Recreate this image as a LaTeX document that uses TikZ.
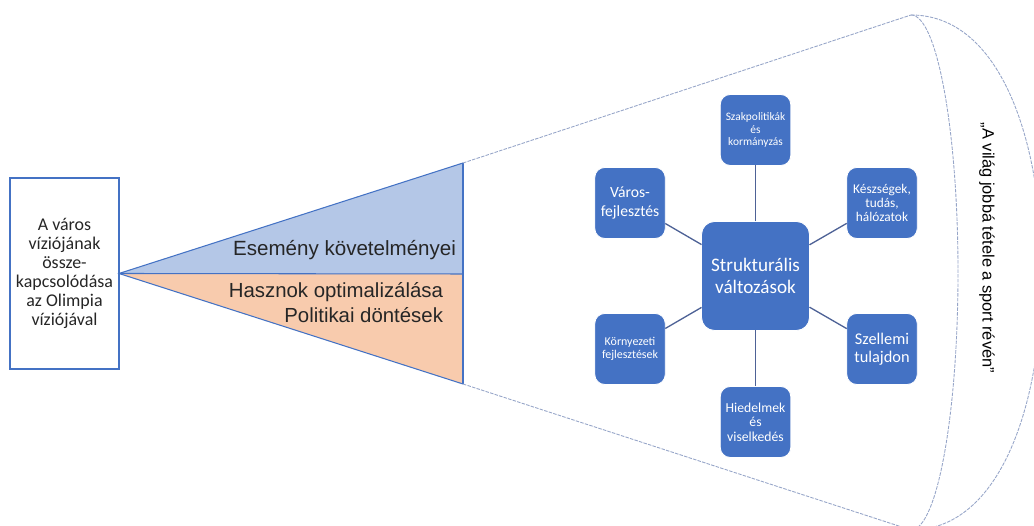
\documentclass[tikz,border=0pt]{standalone}
\usepackage{fontspec}
\setmainfont{Carlito}
\newfontfamily\arialfont{Liberation Sans}

\definecolor{boxblue}{RGB}{68,114,196}
\definecolor{linkblue}{RGB}{78,98,150}
\definecolor{lightblue}{RGB}{180,199,231}
\definecolor{peach}{RGB}{248,203,173}
\definecolor{conegray}{RGB}{150,165,200}

\begin{document}
\begin{tikzpicture}[inner sep=0, outer sep=0,
  bluebox/.style={rectangle, rounded corners=0.2cm, fill=boxblue, draw=white,
    line width=0.5pt, text=white, align=center,
    minimum width=1.41cm, minimum height=1.42cm},
  link/.style={draw=linkblue, line width=0.75pt},
  cone/.style={draw=conegray, line width=0.5pt, dash pattern=on 2pt off 0.7pt}]

  \useasboundingbox (0,0) rectangle (20.68,10.52);

  \node[rectangle, draw=boxblue,
    line width=0.85pt,
    align=center,
    minimum height = 3.82cm,
    minimum width = 2.18cm,
    text = black!85,
    font = \fontsize{10.2}{10.9}\selectfont] (vision) at (1.29, 5.05)
    {A város\\víziójának\\össze-\\kapcsolódása\\az Olimpia\\víziójával};

  % wedge
  \coordinate (apex) at (vision.east);
  \coordinate (ttop) at (9.26, 7.26);
  \coordinate (tmid) at (9.26, 5.04);
  \coordinate (tbot) at (9.26, 2.84);
  \fill[lightblue] (apex) -- (ttop) -- (tmid) -- cycle;
  \fill[peach] (apex) -- (tmid) -- (tbot) -- cycle;
  \draw[boxblue, line width=0.6pt] (ttop) -- (apex) -- (tbot);
  \draw[boxblue, line width=0.6pt] (apex) -- (tmid);
  \draw[boxblue, line width=1.1pt] (ttop) -- (tbot);

  \node[anchor=base east, text=black!85, font=\arialfont\fontsize{11.7}{14}\selectfont]
    (req) at (9.12, 5.41) {Esemény követelményei};
  \node[anchor=east, align=right, text=black!85, font=\arialfont\fontsize{11.6}{14.2}\selectfont]
    (gain) at (8.86, 4.46) {Hasznok optimalizálása\\Politikai döntések};

  % cone and its end
  \coordinate (ctop) at (18.22, 10.22);
  \coordinate (cbot) at (18.22, -0.08);
  \draw[cone] (ttop) -- (ctop);
  \draw[cone] (tbot) -- (cbot);
  \draw[cone] (ctop) arc[start angle=90, end angle=-90, x radius=0.94, y radius=5.15];
  \draw[cone] (ctop) .. controls (20.0, 10.22) and (20.84, 7.72) .. (20.84, 5.07)
    .. controls (20.84, 2.42) and (20.0, -0.08) .. (cbot);

  \node[rotate=-90, font=\arialfont\fontsize{9.35}{11}\selectfont] (motto) at (19.74, 5.56)
    {„A világ jobbá tétele a sport révén”};

  \node[bluebox, minimum width=2.16cm, minimum height=2.18cm, rounded corners=0.26cm,
    font=\fontsize{10.9}{12.4}\selectfont] (hub) at (15.11, 5.0) {Strukturális\\változások};

  \node[bluebox, font=\fontsize{6.5}{7.2}\selectfont] (policy) at ([yshift=2.92cm]hub.center)
    {Szakpolitikák\\és\\kormányzás};
  \node[bluebox, font=\fontsize{7.8}{8.3}\selectfont] (beliefs) at ([yshift=-2.92cm]hub.center)
    {Hiedelmek\\és\\viselkedés};
  \node[bluebox, font=\fontsize{8.9}{10.4}\selectfont] (urban) at ([xshift=-2.51cm, yshift=1.46cm]hub.center)
    {Város-\\fejlesztés};
  \node[bluebox, font=\fontsize{7.6}{8}\selectfont] (skills) at ([xshift=2.53cm, yshift=1.46cm]hub.center)
    {Készségek,\\tudás,\\hálózatok};
  \node[bluebox, font=\fontsize{6.8}{7.6}\selectfont] (env) at ([xshift=-2.51cm, yshift=-1.46cm]hub.center)
    {Környezeti\\fejlesztések};
  \node[bluebox, font=\fontsize{9.3}{10.4}\selectfont] (ip) at ([xshift=2.53cm, yshift=-1.46cm]hub.center)
    {Szellemi\\tulajdon};

  \foreach \n in {policy, skills, ip, beliefs, env, urban}
    \draw[link] (hub) -- (\n);
\end{tikzpicture}
\end{document}
